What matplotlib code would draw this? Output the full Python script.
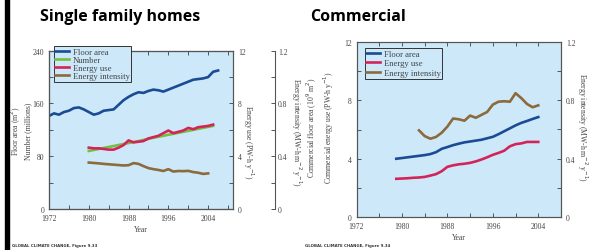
import matplotlib
matplotlib.use("Agg")
import matplotlib.pyplot as plt
from matplotlib.ticker import MultipleLocator, FixedLocator, FuncFormatter
from matplotlib.lines import Line2D

# ---------------- data: single family homes ----------------
sf_area_years = list(range(1972, 2007))
sf_floor_area = [141, 145, 143, 147, 149, 153, 154, 151, 147, 143, 145, 149, 150, 151,
                 158, 165, 170, 174, 177, 176, 179, 181, 180, 178, 181, 184, 187, 190,
                 193, 196, 197, 198, 200, 208, 210]
sf_number_years = [1980, 1984, 1987, 1990, 1993, 1997, 2001, 2005]
sf_number = [88, 94, 98.5, 103, 108, 114, 120, 126]
sf_energy_years = list(range(1980, 2006))
sf_energy_use = [4.65, 4.6, 4.6, 4.55, 4.5, 4.5, 4.65, 4.85, 5.2, 5.05, 5.1, 5.15, 5.35,
                 5.45, 5.55, 5.75, 5.95, 5.75, 5.85, 5.95, 6.15, 6.05, 6.2, 6.25, 6.3, 6.4]
sf_int_years = list(range(1980, 2005))
sf_intensity = [0.352, 0.349, 0.346, 0.342, 0.339, 0.336, 0.333, 0.330, 0.332, 0.348,
                0.342, 0.325, 0.310, 0.302, 0.296, 0.288, 0.302, 0.284, 0.288, 0.287,
                0.289, 0.280, 0.275, 0.266, 0.270]

# ---------------- data: commercial ----------------
com_years = list(range(1979, 2005))
com_floor_area = [4.0, 4.05, 4.1, 4.15, 4.2, 4.25, 4.32, 4.45, 4.68, 4.8, 4.93, 5.03, 5.12,
                  5.18, 5.24, 5.3, 5.4, 5.5, 5.68, 5.88, 6.08, 6.28, 6.45, 6.58, 6.72, 6.85]
com_energy_use = [2.63, 2.65, 2.67, 2.7, 2.72, 2.76, 2.85, 2.95, 3.15, 3.45, 3.55, 3.62, 3.66,
                  3.72, 3.82, 3.95, 4.1, 4.27, 4.4, 4.55, 4.85, 5.0, 5.05, 5.15, 5.15, 5.15]
com_int_years = list(range(1983, 2005))
com_intensity = [0.594, 0.555, 0.537, 0.549, 0.578, 0.62, 0.675, 0.67, 0.66, 0.695, 0.68,
                 0.70, 0.72, 0.77, 0.79, 0.793, 0.79, 0.848, 0.815, 0.775, 0.752, 0.765]

year_ticks = [1972, 1980, 1988, 1996, 2004]

# ---------------- styling ----------------
BG = "#cde9f9"
C_BLUE = "#1a4b94"
C_GREEN = "#74bf3f"
C_RED = "#d3245a"
C_BROWN = "#8c6a3c"
SPINE = "#555555"
TXT = "#444444"
SERIF = "Liberation Serif"
FS = 5.5
LFS = 6.2
LW = 1.9

fig = plt.figure(figsize=(5.92, 2.51), dpi=100)
W, H = 592.0, 251.0


def frac_rect(x0, y0, x1, y1):
    return [x0 / W, 1 - y1 / H, (x1 - x0) / W, (y1 - y0) / H]


def int_fmt(v, p):
    return "0" if abs(v) < 1e-9 else f"{v:.1f}"


def style_main(ax):
    ax.set_facecolor(BG)
    for s in ax.spines.values():
        s.set_color(SPINE)
        s.set_linewidth(0.8)
    ax.tick_params(direction="in", length=3, width=0.7, colors=SPINE,
                   labelcolor=TXT, labelsize=FS, top=True, right=False, which="both")
    for lab in ax.get_xticklabels() + ax.get_yticklabels():
        lab.set_family(SERIF)


def style_twin(ax, pad=3.5):
    for s in ax.spines.values():
        s.set_color(SPINE)
        s.set_linewidth(0.8)
    ax.tick_params(direction="in", length=3, width=0.7, colors=SPINE, labelcolor=TXT,
                   labelsize=FS, which="both", pad=pad)
    for lab in ax.get_yticklabels():
        lab.set_family(SERIF)


def set_ylab(ax, text, x, y, rot):
    ax.set_ylabel(text, family=SERIF, fontsize=FS, color=TXT, rotation=rot,
                  linespacing=1.2)
    ax.yaxis.set_label_coords(x, y)
    ax.yaxis.label.set_va("center")
    ax.yaxis.label.set_ha("center")


def make_legend(ax, handles, labels, anchor, spacing):
    leg = ax.legend(handles, labels, loc="upper left", bbox_to_anchor=anchor,
                    prop={"family": SERIF, "size": LFS}, frameon=True, fancybox=False,
                    handlelength=1.6, handletextpad=0.4, borderpad=0.2,
                    labelspacing=spacing, borderaxespad=0)
    fr = leg.get_frame()
    fr.set_edgecolor("#333333")
    fr.set_linewidth(0.7)
    fr.set_facecolor(BG)
    fr.set_alpha(1)
    for t in leg.get_texts():
        t.set_color(TXT)
    return leg


# black bar on left edge
fig.patches.append(plt.Rectangle((5 / W, 0), 4 / W, 1, transform=fig.transFigure,
                                 color="black", zorder=0))

# ================= left chart =================
ax1 = fig.add_axes(frac_rect(49, 51.7, 233, 210))
ax1.set_xlim(1972, 2009)
ax1.set_ylim(0, 240)
ax1.plot(sf_area_years, sf_floor_area, color=C_BLUE, lw=LW, zorder=3)
ax1.plot(sf_number_years, sf_number, color=C_GREEN, lw=LW, zorder=4)
ax1.xaxis.set_major_locator(FixedLocator(year_ticks))
ax1.xaxis.set_minor_locator(MultipleLocator(4))
ax1.yaxis.set_major_locator(MultipleLocator(80))
ax1.yaxis.set_minor_locator(MultipleLocator(40))
style_main(ax1)
ax1.set_xlabel("Year", family=SERIF, fontsize=FS, color=TXT, labelpad=2)
set_ylab(ax1, "Floor area (m$^2$)\nNumber (millions)", -0.155, 0.5, 90)

ax1b = ax1.twinx()
ax1b.set_ylim(0, 12)
ax1b.plot(sf_energy_years, sf_energy_use, color=C_RED, lw=LW, zorder=3)
ax1b.yaxis.set_major_locator(MultipleLocator(4))
ax1b.yaxis.set_minor_locator(MultipleLocator(2))
style_twin(ax1b)
set_ylab(ax1b, "Energy use (PW-h y$^{-1}$)", 1.085, 0.43, 270)

ax1c = ax1.twinx()
ax1c.spines["right"].set_position(("outward", 30))
ax1c.set_ylim(0, 1.2)
ax1c.plot(sf_int_years, sf_intensity, color=C_BROWN, lw=LW, zorder=3)
ax1c.yaxis.set_major_locator(MultipleLocator(0.4))
ax1c.yaxis.set_minor_locator(MultipleLocator(0.2))
ax1c.yaxis.set_major_formatter(FuncFormatter(int_fmt))
style_twin(ax1c, pad=2.5)
set_ylab(ax1c, "Energy intensity (MW-h m$^{-2}$ y$^{-1}$)", 1.345, 0.49, 270)

handles1 = [Line2D([], [], color=C_BLUE, lw=LW), Line2D([], [], color=C_GREEN, lw=LW),
            Line2D([], [], color=C_RED, lw=LW), Line2D([], [], color=C_BROWN, lw=LW)]
make_legend(ax1c, handles1, ["Floor area", "Number", "Energy use", "Energy intensity"],
            (0.025, 1.03), 0.0)

fig.text(40 / W, 1 - 17 / H, "Single family homes", fontsize=11.5, fontweight="bold",
         family="Open Sans", va="center", ha="left")

# ================= right chart =================
ax2 = fig.add_axes(frac_rect(356.5, 42.7, 561, 218.3))
ax2.set_xlim(1972, 2008)
ax2.set_ylim(0, 12)
ax2.plot(com_years, com_floor_area, color=C_BLUE, lw=LW, zorder=3)
ax2.plot(com_years, com_energy_use, color=C_RED, lw=LW, zorder=3)
ax2.xaxis.set_major_locator(FixedLocator(year_ticks))
ax2.xaxis.set_minor_locator(MultipleLocator(4))
ax2.yaxis.set_major_locator(MultipleLocator(4))
ax2.yaxis.set_minor_locator(MultipleLocator(2))
style_main(ax2)
ax2.set_xlabel("Year", family=SERIF, fontsize=FS, color=TXT, labelpad=2)
set_ylab(ax2, "Commercial floor area (10$^9$ m$^2$)\nCommercial energy use (PW-h y$^{-1}$)",
         -0.176, 0.514, 90)

ax2b = ax2.twinx()
ax2b.set_ylim(0, 1.2)
ax2b.plot(com_int_years, com_intensity, color=C_BROWN, lw=LW, zorder=3)
ax2b.yaxis.set_major_locator(MultipleLocator(0.4))
ax2b.yaxis.set_minor_locator(MultipleLocator(0.2))
ax2b.yaxis.set_major_formatter(FuncFormatter(int_fmt))
style_twin(ax2b)
set_ylab(ax2b, "Energy intensity (MW-h m$^{-2}$ y$^{-1}$)", 1.105, 0.517, 270)

handles2 = [Line2D([], [], color=C_BLUE, lw=LW), Line2D([], [], color=C_RED, lw=LW),
            Line2D([], [], color=C_BROWN, lw=LW)]
make_legend(ax2b, handles2, ["Floor area", "Energy use", "Energy intensity"],
            (0.04, 0.965), 0.2)

fig.text(310 / W, 1 - 17 / H, "Commercial", fontsize=11.5, fontweight="bold",
         family="Open Sans", va="center", ha="left")

# footnotes
fig.text(12 / W, 1 - 246 / H, "GLOBAL CLIMATE CHANGE, Figure 9.33", fontsize=2.8,
         color="#333333", va="center", ha="left", fontweight="bold")
fig.text(305 / W, 1 - 246 / H, "GLOBAL CLIMATE CHANGE, Figure 9.34", fontsize=2.8,
         color="#333333", va="center", ha="left", fontweight="bold")

fig.savefig("out.png", dpi=100)
